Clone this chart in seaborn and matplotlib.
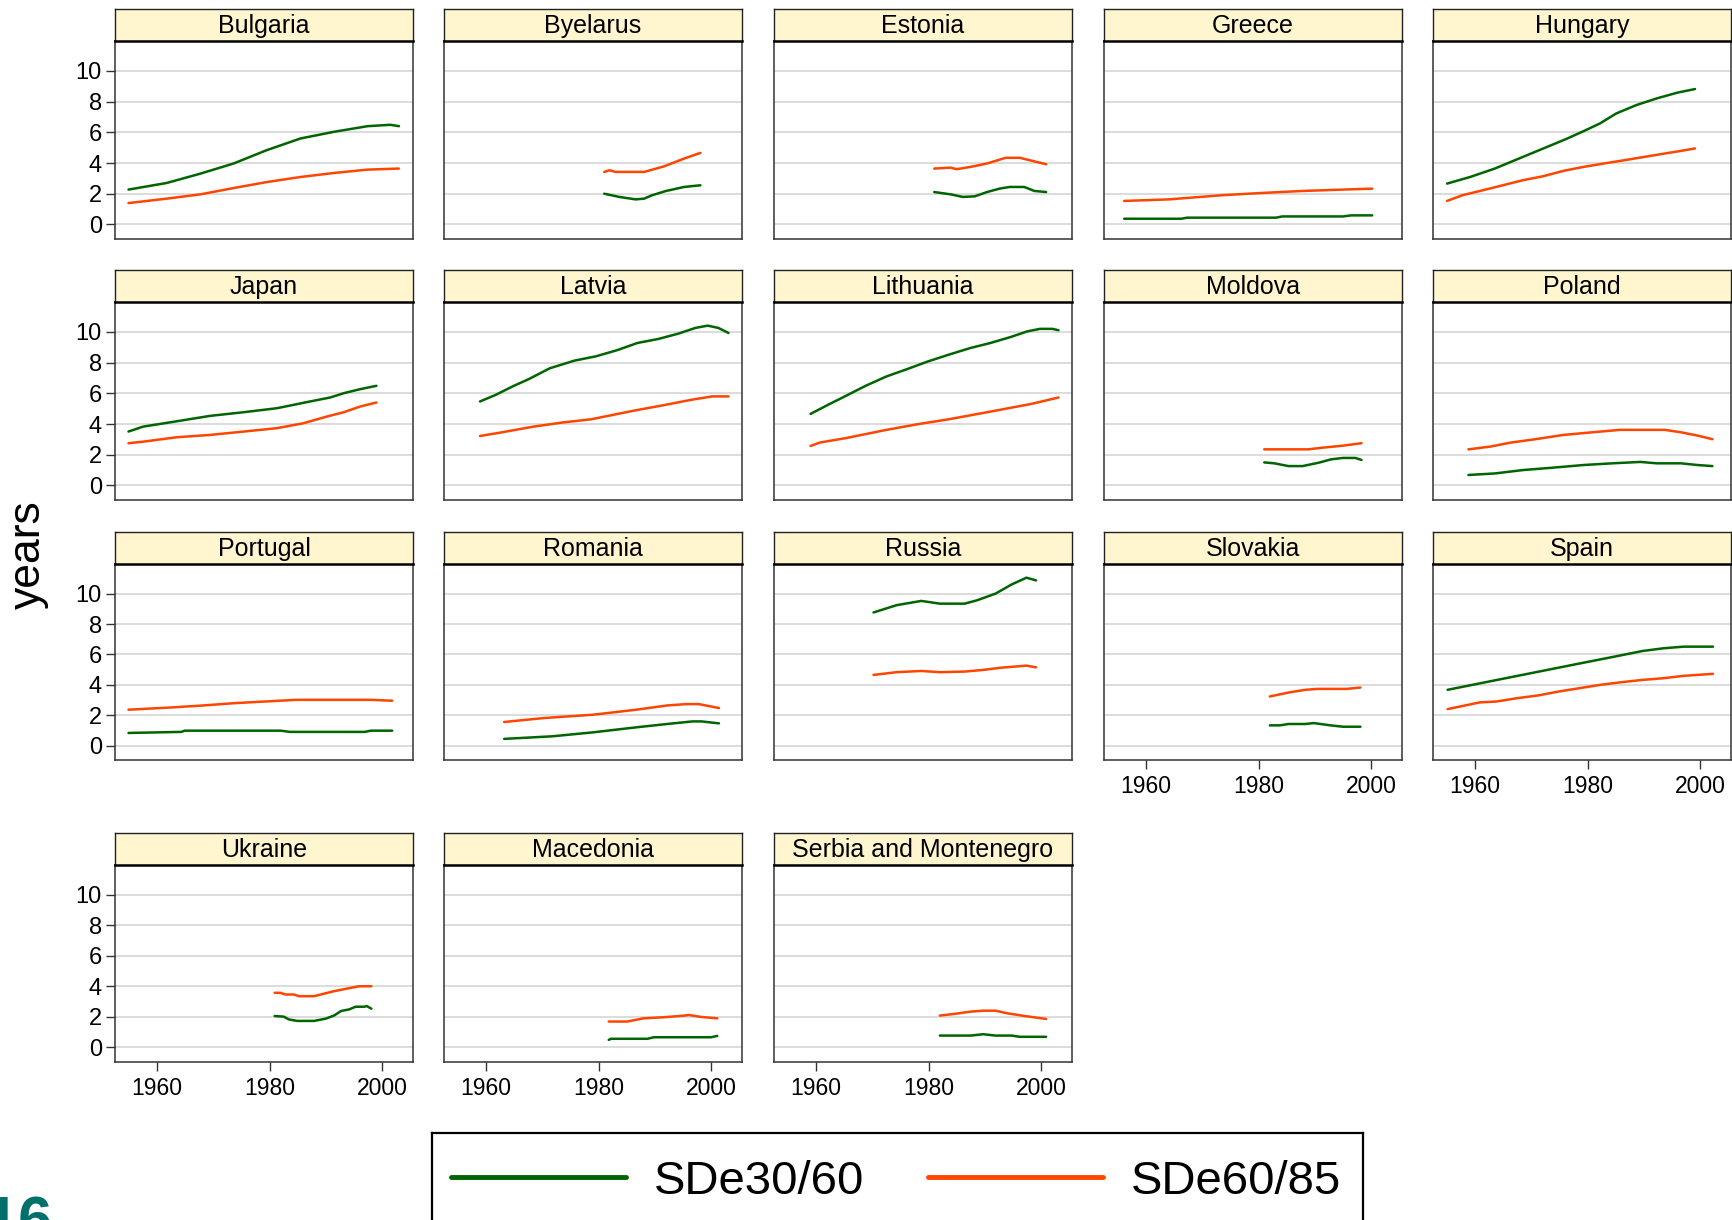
import matplotlib
matplotlib.use("Agg")
import matplotlib.pyplot as plt
from matplotlib import font_manager
from matplotlib.lines import Line2D
import pandas as pd
import seaborn as sns

# ---------------------------------------------------------------------------
# Data: (year, years) pairs for each country and indicator
# ---------------------------------------------------------------------------
SERIES_LABELS = ["SDe30/60", "SDe60/85"]

bulgaria_3060 = [(1954.9, 2.27), (1961.7, 2.70), (1967.7, 3.31), (1973.6, 3.97), (1979.5, 4.84),
                 (1985.5, 5.60), (1991.4, 6.03), (1997.4, 6.40), (2001.5, 6.49), (2003.0, 6.40)]
bulgaria_6085 = [(1954.9, 1.39), (1961.7, 1.68), (1967.7, 1.96), (1973.6, 2.37), (1979.5, 2.76),
                 (1985.5, 3.09), (1991.4, 3.35), (1997.4, 3.57), (2003.0, 3.64)]

byelarus_3060 = [(1981.0, 2.00), (1983.7, 1.79), (1986.6, 1.63), (1988.1, 1.68), (1989.5, 1.90),
                 (1992.0, 2.18), (1995.2, 2.44), (1998.1, 2.55)]
byelarus_6085 = [(1981.0, 3.42), (1981.9, 3.53), (1983.0, 3.42), (1988.1, 3.42), (1991.7, 3.79),
                 (1995.2, 4.29), (1998.1, 4.66)]

estonia_3060 = [(1981.0, 2.11), (1983.9, 1.96), (1986.1, 1.79), (1988.2, 1.83), (1990.4, 2.11),
                (1992.6, 2.33), (1994.4, 2.44), (1997.0, 2.44), (1998.8, 2.18), (2000.9, 2.11)]
estonia_6085 = [(1981.0, 3.64), (1983.9, 3.70), (1985.0, 3.60), (1987.5, 3.75), (1990.4, 3.97),
                (1993.7, 4.34), (1996.2, 4.34), (2000.9, 3.92)]

greece_3060 = [(1956.1, 0.37), (1966.2, 0.37), (1967.3, 0.44), (1983.1, 0.44), (1984.2, 0.52),
               (1995.0, 0.52), (1996.5, 0.59), (2000.2, 0.59)]
greece_6085 = [(1956.1, 1.53), (1964.0, 1.63), (1973.4, 1.90), (1980.6, 2.05), (1987.8, 2.18),
               (1995.0, 2.27), (2000.2, 2.33)]

hungary_3060 = [(1955.0, 2.66), (1959.1, 3.09), (1963.5, 3.64), (1968.5, 4.40), (1972.8, 5.05),
                (1976.4, 5.60), (1979.3, 6.08), (1982.2, 6.58), (1985.1, 7.23), (1988.7, 7.78),
                (1992.3, 8.21), (1995.9, 8.58), (1999.1, 8.82)]
hungary_6085 = [(1955.0, 1.53), (1957.7, 1.90), (1961.3, 2.22), (1964.9, 2.55), (1968.5, 2.88),
                (1972.1, 3.14), (1975.7, 3.49), (1979.3, 3.75), (1982.9, 3.97), (1986.5, 4.18),
                (1990.1, 4.40), (1993.7, 4.62), (1996.6, 4.79), (1999.1, 4.95)]

japan_3060 = [(1954.9, 3.51), (1957.5, 3.83), (1963.5, 4.18), (1969.4, 4.53), (1975.4, 4.77),
              (1981.3, 5.03), (1987.2, 5.47), (1990.8, 5.73), (1993.2, 6.01), (1996.1, 6.27),
              (1999.0, 6.49)]
japan_6085 = [(1954.9, 2.75), (1957.5, 2.85), (1963.5, 3.14), (1969.4, 3.29), (1975.4, 3.51),
              (1981.3, 3.73), (1986.0, 4.05), (1990.2, 4.49), (1993.2, 4.77), (1996.1, 5.14),
              (1999.0, 5.40)]

latvia_3060 = [(1958.9, 5.47), (1961.7, 5.90), (1964.7, 6.45), (1967.6, 6.93), (1971.3, 7.63),
               (1975.7, 8.13), (1979.5, 8.41), (1983.2, 8.80), (1986.9, 9.28), (1990.6, 9.54),
               (1994.2, 9.89), (1997.2, 10.26), (1999.4, 10.41), (2001.3, 10.26), (2003.1, 9.93)]
latvia_6085 = [(1958.9, 3.22), (1962.5, 3.44), (1968.4, 3.83), (1973.6, 4.10), (1978.7, 4.31),
               (1986.1, 4.86), (1991.3, 5.21), (1996.5, 5.58), (2000.2, 5.80), (2003.1, 5.80)]

lithuania_3060 = [(1959.0, 4.66), (1962.1, 5.25), (1965.1, 5.80), (1968.8, 6.49), (1972.5, 7.10),
                  (1976.2, 7.58), (1979.9, 8.08), (1983.6, 8.52), (1987.4, 8.95), (1991.0, 9.28),
                  (1994.6, 9.67), (1997.6, 10.04), (1999.8, 10.20), (2002.0, 10.20), (2003.1, 10.11)]
lithuania_6085 = [(1959.0, 2.57), (1960.6, 2.79), (1965.1, 3.07), (1972.5, 3.62), (1978.4, 4.01),
                  (1983.6, 4.31), (1991.0, 4.81), (1998.4, 5.32), (2003.1, 5.73)]

moldova_3060 = [(1981.0, 1.50), (1982.8, 1.44), (1985.3, 1.26), (1987.8, 1.26), (1990.7, 1.48),
                (1992.9, 1.70), (1995.0, 1.79), (1997.2, 1.79), (1998.3, 1.66)]
moldova_6085 = [(1981.0, 2.35), (1988.8, 2.35), (1991.4, 2.46), (1995.0, 2.59), (1998.3, 2.75)]

poland_3060 = [(1958.8, 0.68), (1963.5, 0.78), (1968.5, 1.00), (1973.6, 1.15), (1979.3, 1.33),
               (1984.4, 1.44), (1989.4, 1.53), (1992.3, 1.44), (1996.6, 1.44), (1999.5, 1.33),
               (2002.2, 1.26)]
poland_6085 = [(1958.8, 2.35), (1962.7, 2.53), (1966.3, 2.79), (1970.7, 3.01), (1975.7, 3.29),
               (1980.8, 3.46), (1985.8, 3.62), (1990.1, 3.62), (1993.7, 3.62), (1996.6, 3.46),
               (1999.5, 3.25), (2002.2, 3.01)]

portugal_3060 = [(1954.9, 0.83), (1964.3, 0.90), (1964.9, 0.98), (1982.0, 0.98), (1983.6, 0.90),
                 (1996.9, 0.90), (1998.0, 0.98), (2001.8, 0.98)]
portugal_6085 = [(1954.9, 2.36), (1962.6, 2.51), (1968.2, 2.64), (1973.7, 2.79), (1979.2, 2.90),
                 (1984.7, 3.01), (1998.0, 3.01), (2001.8, 2.95)]

romania_3060 = [(1963.2, 0.44), (1971.8, 0.61), (1979.0, 0.87), (1986.7, 1.20), (1992.2, 1.42),
                (1996.7, 1.59), (1998.3, 1.59), (2001.4, 1.46)]
romania_6085 = [(1963.2, 1.55), (1970.2, 1.81), (1979.0, 2.03), (1986.7, 2.36), (1992.2, 2.64),
                (1995.6, 2.73), (1997.8, 2.73), (2001.4, 2.47)]

russia_3060 = [(1970.2, 8.76), (1974.3, 9.24), (1978.7, 9.52), (1982.0, 9.34), (1986.4, 9.34),
               (1988.6, 9.56), (1991.9, 10.00), (1994.7, 10.59), (1997.4, 11.05), (1999.1, 10.87)]
russia_6085 = [(1970.2, 4.65), (1974.3, 4.83), (1978.7, 4.91), (1982.0, 4.83), (1986.4, 4.87),
               (1989.7, 4.98), (1993.0, 5.13), (1997.4, 5.26), (1999.1, 5.15)]

slovakia_3060 = [(1982.0, 1.33), (1983.8, 1.33), (1985.3, 1.42), (1988.3, 1.42), (1989.8, 1.48),
                 (1992.8, 1.33), (1995.0, 1.24), (1998.1, 1.24)]
slovakia_6085 = [(1982.0, 3.23), (1985.3, 3.49), (1988.3, 3.67), (1990.5, 3.73), (1995.7, 3.73),
                 (1998.1, 3.82)]

spain_3060 = [(1955.1, 3.67), (1962.0, 4.18), (1970.0, 4.77), (1978.0, 5.36), (1985.0, 5.87),
              (1989.7, 6.22), (1993.4, 6.40), (1997.1, 6.51), (2002.3, 6.51)]
spain_6085 = [(1955.1, 2.40), (1960.8, 2.84), (1963.8, 2.90), (1967.5, 3.12), (1971.2, 3.30),
              (1974.9, 3.56), (1978.6, 3.78), (1982.3, 4.00), (1986.0, 4.17), (1989.7, 4.32),
              (1993.4, 4.43), (1997.1, 4.59), (2002.3, 4.72)]

ukraine_3060 = [(1980.9, 2.06), (1982.5, 2.02), (1983.4, 1.84), (1984.9, 1.74), (1987.9, 1.74),
                (1990.0, 1.89), (1991.5, 2.10), (1992.7, 2.39), (1994.1, 2.49), (1995.3, 2.67),
                (1996.8, 2.67), (1997.3, 2.71), (1998.1, 2.54)]
ukraine_6085 = [(1980.9, 3.58), (1981.9, 3.58), (1982.8, 3.47), (1984.3, 3.47), (1985.2, 3.36),
                (1987.9, 3.36), (1989.1, 3.47), (1991.5, 3.69), (1993.8, 3.86), (1995.9, 4.01),
                (1998.1, 4.01)]

macedonia_3060 = [(1981.8, 0.50), (1982.2, 0.57), (1988.7, 0.57), (1989.8, 0.67), (2000.0, 0.67),
                  (2001.1, 0.76)]
macedonia_6085 = [(1981.8, 1.70), (1985.1, 1.70), (1988.0, 1.91), (1991.6, 1.98), (1995.3, 2.09),
                  (1996.0, 2.13), (1998.2, 2.00), (2001.1, 1.91)]

serbia_3060 = [(1982.0, 0.78), (1987.5, 0.78), (1989.7, 0.87), (1991.9, 0.78), (1994.8, 0.78),
               (1996.2, 0.70), (2000.9, 0.70)]
serbia_6085 = [(1982.0, 2.09), (1984.6, 2.20), (1987.5, 2.35), (1989.7, 2.41), (1991.9, 2.41),
               (1994.0, 2.24), (1996.9, 2.07), (2000.9, 1.87)]

PANEL_ROWS = [
    ["Bulgaria", "Byelarus", "Estonia", "Greece", "Hungary"],
    ["Japan", "Latvia", "Lithuania", "Moldova", "Poland"],
    ["Portugal", "Romania", "Russia", "Slovakia", "Spain"],
    ["Ukraine", "Macedonia", "Serbia and Montenegro"],
]
COUNTRY_SERIES = {
    "Bulgaria": (bulgaria_3060, bulgaria_6085),
    "Byelarus": (byelarus_3060, byelarus_6085),
    "Estonia": (estonia_3060, estonia_6085),
    "Greece": (greece_3060, greece_6085),
    "Hungary": (hungary_3060, hungary_6085),
    "Japan": (japan_3060, japan_6085),
    "Latvia": (latvia_3060, latvia_6085),
    "Lithuania": (lithuania_3060, lithuania_6085),
    "Moldova": (moldova_3060, moldova_6085),
    "Poland": (poland_3060, poland_6085),
    "Portugal": (portugal_3060, portugal_6085),
    "Romania": (romania_3060, romania_6085),
    "Russia": (russia_3060, russia_6085),
    "Slovakia": (slovakia_3060, slovakia_6085),
    "Spain": (spain_3060, spain_6085),
    "Ukraine": (ukraine_3060, ukraine_6085),
    "Macedonia": (macedonia_3060, macedonia_6085),
    "Serbia and Montenegro": (serbia_3060, serbia_6085),
}
X_LABELLED = {"Slovakia", "Spain", "Ukraine", "Macedonia", "Serbia and Montenegro"}
Y_TICKS = [0, 2, 4, 6, 8, 10]
X_TICKS = [1960, 1980, 2000]

records = []
for country, pair in COUNTRY_SERIES.items():
    for label, pts in zip(SERIES_LABELS, pair):
        for yr, val in pts:
            records.append({"country": country, "series": label, "year": yr, "value": val})
df = pd.DataFrame(records)

# ---------------------------------------------------------------------------
# Styling
# ---------------------------------------------------------------------------
sns.set_theme(style="white")
plt.rcParams["font.family"] = ["Liberation Sans", "DejaVu Sans"]
plt.rcParams["text.color"] = "black"
plt.rcParams["xtick.color"] = "black"
plt.rcParams["ytick.color"] = "black"

PALETTE = {"SDe30/60": "#006400", "SDe60/85": "#FF4500"}
STRIP_COLOR = "#FFF5CF"
GRID_COLOR = "#DCDCDC"
FRAME_COLOR = "#333333"

W, H = 1733, 1220
fig = plt.figure(figsize=(W / 100, H / 100), dpi=100)
fig.patch.set_facecolor("white")

COL_LEFT = [115, 444, 774, 1104, 1433]
ROW_SPAN = [(41, 239), (302, 500), (564, 760), (865, 1062)]  # panel top / bottom in pixels
PANEL_W = 298
STRIP_H = 32


def frac_rect(left, top, width, height):
    return [left / W, 1 - (top + height) / H, width / W, height / H]


for r, names in enumerate(PANEL_ROWS):
    top, bottom = ROW_SPAN[r]
    for c, name in enumerate(names):
        left = COL_LEFT[c]
        ax = fig.add_axes(frac_rect(left, top, PANEL_W, bottom - top))
        sub = df[df["country"] == name]
        sns.lineplot(data=sub, x="year", y="value", hue="series", hue_order=SERIES_LABELS,
                     palette=PALETTE, estimator=None, sort=False, legend=False,
                     linewidth=1.8, ax=ax)
        ax.set_xlim(1952.5, 2005.5)
        ax.set_ylim(-0.95, 11.95)
        ax.set_yticks(Y_TICKS)
        ax.set_xticks(X_TICKS)
        ax.set_xlabel("")
        ax.set_ylabel("")
        ax.set_facecolor("white")
        ax.grid(False)
        ax.yaxis.grid(True, color=GRID_COLOR, linewidth=1.4)
        ax.set_axisbelow(True)
        for sp in ax.spines.values():
            sp.set_color(FRAME_COLOR)
            sp.set_linewidth(1.1)
        ax.tick_params(axis="both", direction="out", length=6.5, width=1.0,
                       color=FRAME_COLOR, pad=3, labelcolor="black")
        ax.tick_params(axis="y", labelsize=17)
        ax.tick_params(axis="x", labelsize=16.5)
        if c == 0:
            ax.tick_params(axis="y", left=True, labelleft=True)
        else:
            ax.tick_params(axis="y", left=False, labelleft=False)
        if name in X_LABELLED:
            ax.tick_params(axis="x", bottom=True, labelbottom=True, pad=4)
        else:
            ax.tick_params(axis="x", bottom=False, labelbottom=False)

        sax = fig.add_axes(frac_rect(left, top - STRIP_H, PANEL_W, STRIP_H))
        sax.set_facecolor(STRIP_COLOR)
        sax.set_xticks([])
        sax.set_yticks([])
        for sp in sax.spines.values():
            sp.set_color("#222222")
            sp.set_linewidth(1.0)
        sax.spines["bottom"].set_color("black")
        sax.spines["bottom"].set_linewidth(1.8)
        sax.text(0.5, 0.47, name, ha="center", va="center", fontsize=18,
                 color="black", transform=sax.transAxes)

fig.text(28 / W, 1 - 555 / H, "years", rotation=90, ha="center", va="center",
         fontsize=32, color="black")

# Legend inside a framed box that runs off the bottom edge
try:
    font_manager.findfont("Liberation Sans Narrow", fallback_to_default=False)
    legend_font = {"family": "Liberation Sans Narrow", "size": 40}
except Exception:
    legend_font = {"family": "Liberation Sans", "size": 34}

lax = fig.add_axes(frac_rect(432, 1133, 931, 140))
lax.set_xticks([])
lax.set_yticks([])
lax.set_facecolor("white")
for sp in lax.spines.values():
    sp.set_color("black")
    sp.set_linewidth(1.6)
handles = [Line2D([0], [0], color=PALETTE[s], linewidth=3.5, solid_capstyle="round")
           for s in SERIES_LABELS]
lax.legend(handles, SERIES_LABELS, loc="center left",
           bbox_to_anchor=(19 / 931, 1 - 49 / 140), ncol=2, frameon=False,
           prop=legend_font, handlelength=3.7, handletextpad=0.6,
           columnspacing=1.35, borderpad=0, borderaxespad=0, labelcolor="black")

fig.text(-16 / W, 1 - 1240 / H, "16", ha="left", va="baseline", fontsize=44,
         fontweight="bold", color="#00706B")

fig.savefig("out.png", dpi=100, facecolor="white")
